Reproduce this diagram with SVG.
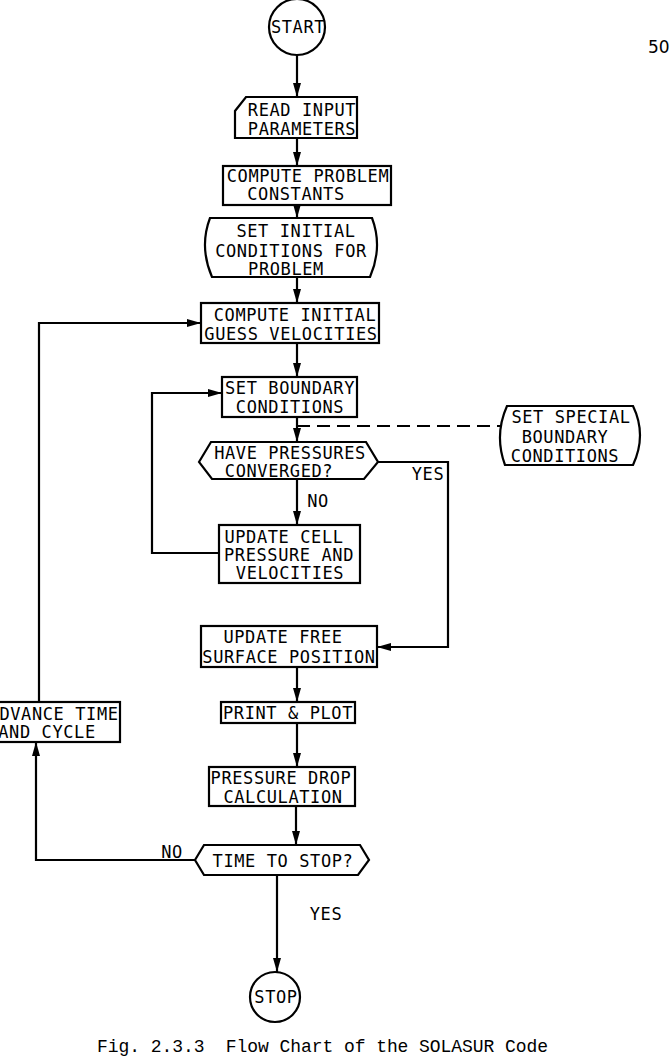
<svg xmlns="http://www.w3.org/2000/svg" width="671" height="1058" viewBox="0 0 671 1058">
<style>
.s{fill:#fff;stroke:#000;stroke-width:2.2}
.t{font-family:"DejaVu Sans Mono","Liberation Mono",monospace;font-size:17px;letter-spacing:0.6px;fill:#000;text-anchor:middle}
.l{fill:none;stroke:#000;stroke-width:2.2}
.d{fill:none;stroke:#000;stroke-width:2;stroke-dasharray:13 7}
</style>
<defs>
<marker id="a" markerUnits="userSpaceOnUse" markerWidth="14" markerHeight="8" refX="14" refY="4" orient="auto">
<path d="M0,0 L14,4 L0,8 Z" fill="#000"/>
</marker>
</defs>
<rect width="671" height="1058" fill="#fff"/>
<g id="connectors">
<path class="l" d="M297,55 V97" marker-end="url(#a)"/>
<path class="l" d="M297,138 V166" marker-end="url(#a)"/>
<path class="l" d="M297,205 V218" marker-end="url(#a)"/>
<path class="l" d="M297,277 V303" marker-end="url(#a)"/>
<path class="l" d="M297,343 V377" marker-end="url(#a)"/>
<path class="l" d="M297,417 V442" marker-end="url(#a)"/>
<path class="l" d="M297,479 V525" marker-end="url(#a)"/>
<path class="l" d="M219,553 H152 V393 H222" marker-end="url(#a)"/>
<path class="l" d="M378,462 H448 V647 H377" marker-end="url(#a)"/>
<path class="d" d="M297,426 H500"/>
<path class="l" d="M297,667 V702" marker-end="url(#a)"/>
<path class="l" d="M297,723 V767" marker-end="url(#a)"/>
<path class="l" d="M296,806 V845" marker-end="url(#a)"/>
<path class="l" d="M195,860 H36 V742" marker-end="url(#a)"/>
<path class="l" d="M39,702 V323 H201" marker-end="url(#a)"/>
<path class="l" d="M277,875 V972" marker-end="url(#a)"/>
<text class="t" x="318" y="507">NO</text>
<text class="t" x="428" y="480">YES</text>
<text class="t" x="172" y="858">NO</text>
<text class="t" x="326" y="920">YES</text>
</g>
<g id="start">
<circle class="s" cx="297" cy="27" r="28"/>
<text class="t" x="298" y="33">START</text>
</g>
<g id="read-input">
<path class="s" d="M246,97 H357 V138 H235 V111 Z"/>
<text class="t" x="302" y="116">READ INPUT</text>
<text class="t" x="302" y="135">PARAMETERS</text>
</g>
<g id="compute-constants">
<rect class="s" x="223" y="166" width="168" height="39"/>
<text class="t" x="308" y="182">COMPUTE PROBLEM</text>
<text class="t" x="296" y="200">CONSTANTS</text>
</g>
<g id="set-initial">
<path class="s" d="M210,218 H372 Q383,247 370,277 H212 Q199,247 210,218 Z"/>
<text class="t" x="296" y="237">SET INITIAL</text>
<text class="t" x="291" y="257">CONDITIONS FOR</text>
<text class="t" x="286" y="275">PROBLEM</text>
</g>
<g id="compute-initial">
<rect class="s" x="201" y="303" width="178" height="40"/>
<text class="t" x="295" y="321">COMPUTE INITIAL</text>
<text class="t" x="291" y="340">GUESS VELOCITIES</text>
</g>
<g id="set-boundary">
<rect class="s" x="222" y="377" width="135" height="40"/>
<text class="t" x="290" y="394">SET BOUNDARY</text>
<text class="t" x="290" y="413">CONDITIONS</text>
</g>
<g id="set-special">
<path class="s" d="M507,406 H633 Q647,435 633,465 H505 Q494,435 507,406 Z"/>
<text class="t" x="571" y="423">SET SPECIAL</text>
<text class="t" x="565" y="443">BOUNDARY</text>
<text class="t" x="565" y="462">CONDITIONS</text>
</g>
<g id="converged">
<path class="s" d="M199,462 L211,442 H366 L378,462 L364,479 H212 Z"/>
<text class="t" x="290" y="459">HAVE PRESSURES</text>
<text class="t" x="279" y="477">CONVERGED?</text>
</g>
<g id="update-cell">
<rect class="s" x="219" y="525" width="141" height="58"/>
<text class="t" x="284" y="543">UPDATE CELL</text>
<text class="t" x="289" y="561">PRESSURE AND</text>
<text class="t" x="290" y="579">VELOCITIES</text>
</g>
<g id="update-free">
<rect class="s" x="201" y="626" width="176" height="41"/>
<text class="t" x="283" y="643">UPDATE FREE</text>
<text class="t" x="289" y="663">SURFACE POSITION</text>
</g>
<g id="print-plot">
<rect class="s" x="221" y="702" width="134" height="21"/>
<text class="t" x="288" y="719">PRINT &amp; PLOT</text>
</g>
<g id="pressure-drop">
<rect class="s" x="209" y="767" width="146" height="39"/>
<text class="t" x="281" y="784">PRESSURE DROP</text>
<text class="t" x="283" y="803">CALCULATION</text>
</g>
<g id="time-to-stop">
<path class="s" d="M195,860 L204,845 H360 L369,860 L358,875 H204 Z"/>
<text class="t" x="283" y="867">TIME TO STOP?</text>
</g>
<g id="advance">
<rect class="s" x="-5" y="702" width="125" height="40"/>
<text class="t" x="59" y="720">DVANCE TIME</text>
<text class="t" x="47" y="738">AND CYCLE</text>
</g>
<g id="stop">
<circle class="s" cx="275" cy="997" r="25"/>
<text class="t" x="276" y="1003">STOP</text>
</g>
<text x="97" y="1052" font-family="Liberation Mono, monospace" font-size="18" textLength="451" lengthAdjust="spacing" xml:space="preserve" style="white-space:pre">Fig. 2.3.3  Flow Chart of the SOLASUR Code</text>
<text x="648" y="53" font-family="DejaVu Sans, sans-serif" font-size="17">50</text>
</svg>
